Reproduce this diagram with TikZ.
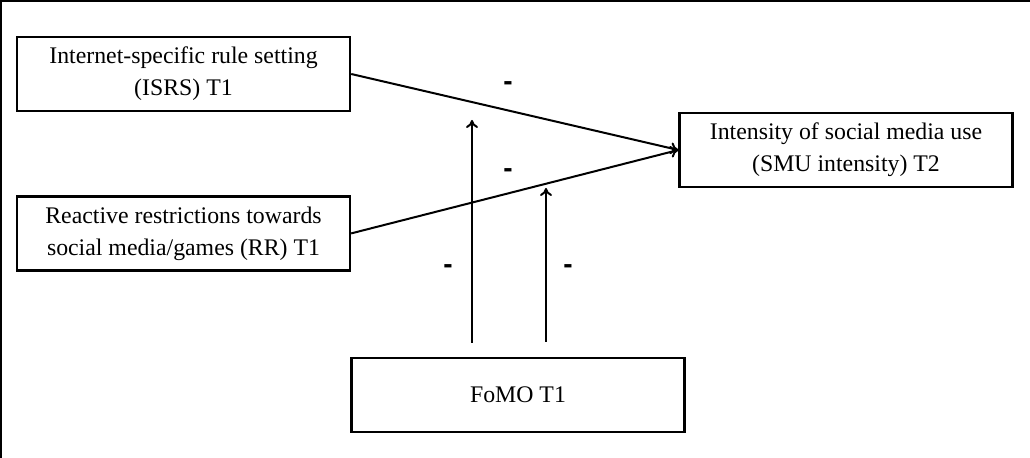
\documentclass[tikz,border=0pt]{standalone}
\usepackage{fontspec}
\setmainfont{Liberation Serif}
\newfontfamily\signfont{Liberation Sans}
\usetikzlibrary{arrows.meta,positioning}

\begin{document}
\begin{tikzpicture}[x=0.5pt, y=-0.5pt, node distance=41.5pt,
    varbox/.style={draw, line width=1.2pt, minimum width=166.5pt,
      minimum height=37pt, align=center, inner sep=2pt,
      font=\fontsize{11.9}{16}\selectfont},
    sign/.style={font=\signfont\bfseries\fontsize{14}{14}\selectfont, inner sep=0pt},
    path/.style={line width=1pt, -{To[length=4pt,width=6pt]}}]
    \useasboundingbox (0,0) rectangle (1030,458);
    % frame of the figure
    \draw[line width=1pt] (1030,1) -- (1,1) -- (1,458);
    % boxes
    \node[varbox] (isrs) at (183.5,74) {Internet-specific rule setting\\(ISRS) T1};
    \node[varbox, below=of isrs] (rr) {Reactive restrictions towards\\social media/games (RR) T1};
    \node[varbox] (smu) at (846,150) {Intensity of social media use\\(SMU intensity) T2};
    \node[varbox] (fomo) at (518,395) {FoMO T1};
    % moderation paths
    \coordinate (f1) at (472,343);
    \coordinate (f2) at (546,342);
    \coordinate (t1) at (472,120);
    \coordinate (t2) at (546,188);
    \draw[path] (isrs.east) -- (smu.west);
    \draw[path] (rr.east) -- (smu.west);
    \draw[path] (f1) -- (t1);
    \draw[path] (f2) -- (t2);
    % signs
    \node[sign] (m1) at (508,86) {-};
    \node[sign] (m2) at (508,173) {-};
    \node[sign] (m3) at (448,269) {-};
    \node[sign] (m4) at (568,269) {-};
\end{tikzpicture}
\end{document}
